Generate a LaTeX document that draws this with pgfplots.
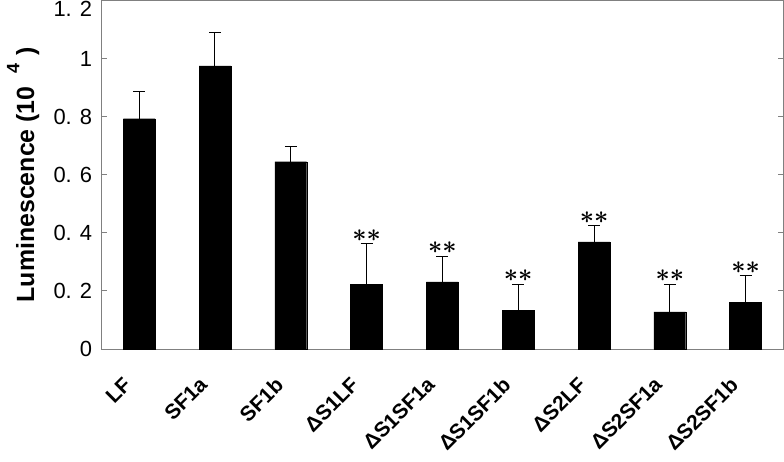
\documentclass[border=0pt]{standalone}
\usepackage{pgfplots}
\pgfplotsset{compat=1.18}
\usepackage{fontspec}
\setmainfont{Liberation Sans}
\definecolor{axisgray}{RGB}{128,128,128}
\newcommand{\toplabel}{\raisebox{-16pt}[0pt][0pt]{1. 2}}
\newcommand{\stars}{{\boldmath$\ast\ast$}}

\begin{document}
\fontsize{21}{25}\selectfont
\begin{tikzpicture}
\begin{axis}[
  scale only axis, width=685pt, height=350pt,
  xmin=-0.5, xmax=8.5, ymin=0, ymax=1.2,
  axis line style={axisgray, line width=1pt},
  every tick/.style={axisgray, line width=1pt},
  major tick length=6pt,
  ytick={0,0.2,...,1.2},
  yticklabels={0,0. 2,0. 4,0. 6,0. 8,1,\toplabel},
  xtick={0,...,8},
  xticklabels={LF,SF1a,SF1b,ΔS1LF,ΔS1SF1a,ΔS1SF1b,ΔS2LF,ΔS2SF1a,ΔS2SF1b},
  x tick style={draw=none},
  minor xtick={0.5,1.5,...,7.5},
  minor tick length=6pt,
  xticklabel style={font=\bfseries, xshift=-17pt, yshift=-17pt, rotate=45, anchor=north east},
  yticklabel style={font=\fontsize{22}{26}\selectfont, inner ysep=0pt, xshift=-2pt},
  ylabel={Luminescence (10\,\,\,\raisebox{0.6em}{\fontsize{18}{20}\selectfont 4}\,\,)},
  ylabel style={font=\fontsize{25}{30}\selectfont\bfseries, yshift=0pt},
]
\addplot[ybar, bar width=32pt, fill=black, draw=black,
  error bars/.cd, y dir=plus, y explicit,
  error mark=-, error mark options={black, mark size=6pt, line width=1pt, rotate=90},
  error bar style={black, line width=1pt}]
  coordinates {
  (0,0.793) +- (0,0.093)
  (1,0.975) +- (0,0.115)
  (2,0.645) +- (0,0.052)
  (3,0.224) +- (0,0.138)
  (4,0.231) +- (0,0.089)
  (5,0.134) +- (0,0.090)
  (6,0.369) +- (0,0.055)
  (7,0.128) +- (0,0.096)
  (8,0.162) +- (0,0.090)
  };
\addplot[draw=none, mark=none,
  nodes near coords={\stars},
  every node near coord/.append style={font=\fontsize{29}{30}\selectfont, anchor=south, inner sep=0pt, yshift=2pt}]
  coordinates {
  (3,0.362) (4,0.320) (5,0.224) (6,0.424) (7,0.224) (8,0.252)
  };
\end{axis}
\end{tikzpicture}
\end{document}
